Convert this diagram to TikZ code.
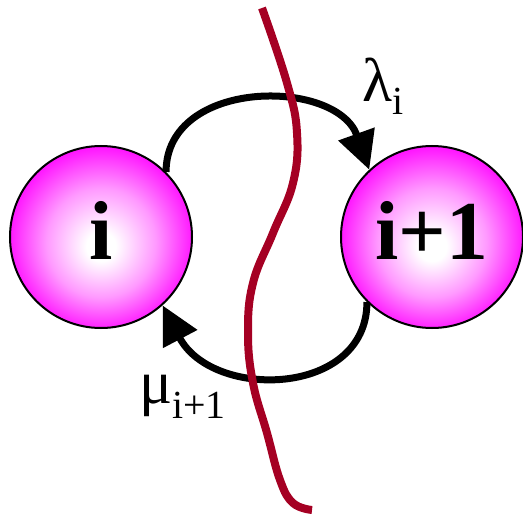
\documentclass[tikz,border=0pt]{standalone}
\usepackage{fontspec}
\setmainfont{Liberation Serif}
\usetikzlibrary{arrows.meta}
\pgfdeclarelayer{background}
\pgfsetlayers{background,main}
\definecolor{wavered}{RGB}{165,0,35}
\pgfdeclareradialshading{pinkball}{\pgfpoint{0bp}{-3bp}}{color(0bp)=(white); color(4bp)=(white); color(15bp)=(magenta!40!white); color(27bp)=(magenta); color(32bp)=(magenta)}
\begin{document}
\begin{tikzpicture}[x=1bp,y=-1bp,
  state/.style={circle, draw=black, line width=2bp, minimum size=182bp, inner sep=0pt,
    shading=pinkball, text depth=14bp,
    font=\fontsize{84}{90}\selectfont\bfseries},
  flow/.style={line width=7bp, -{Triangle[length=38bp,width=37bp]}},
  rate/.style={anchor=base west, inner sep=0pt, font=\fontsize{62}{70}\selectfont},
  wave/.style={draw=wavered, line width=8bp}]
\useasboundingbox (0,0) rectangle (523,519);
\node[state] (L) at (101,237) {i};
\node[state] (R) at (432,237) {i+1};
\begin{pgfonlayer}{background}
\draw[flow] (L.45) .. controls +(0,-94) and +(-33,-92) .. (R.133);
\draw[flow] (R.225) .. controls +(0,95) and +(50,95) .. (L.312);
\end{pgfonlayer}
\node[rate] (lam) at (362,102) {λ\raisebox{-13bp}{\fontsize{40}{40}\selectfont i}};
\node[rate] (mu) at (139,403) {μ\raisebox{-15bp}{\fontsize{40}{40}\selectfont i+1}};
\draw[wave] plot[smooth, tension=0.7] coordinates {(262,8) (287,83) (297,133) (293,183) (273,233) (253,283) (248,333) (253,383) (267,433) (280,480) (293,503) (312,510)};
\end{tikzpicture}
\end{document}
